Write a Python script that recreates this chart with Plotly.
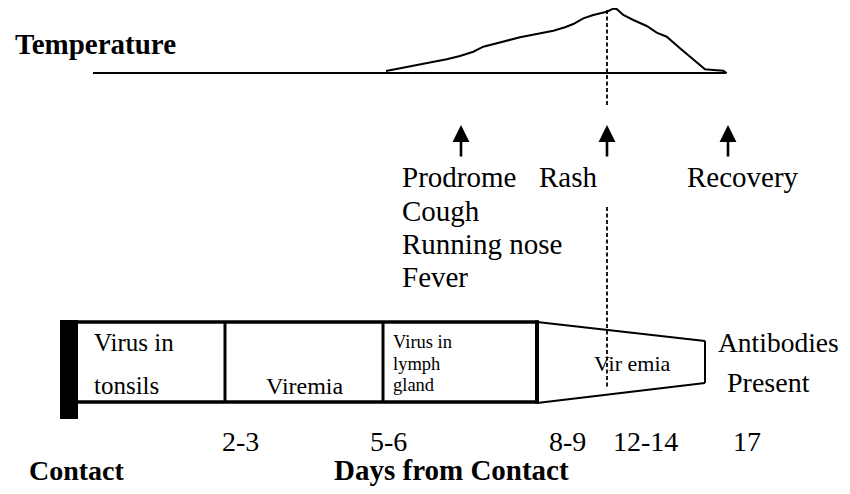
import plotly.graph_objects as go

# ---- data ----
curve_x = [386, 400, 423.3, 446.7, 460, 473.3, 483.3, 493.3, 506.7, 520, 536.7, 553.3, 565,
           573.3, 583.3, 593.3, 606.7, 613.3, 616.7, 623.3, 633.3, 646.7, 656.7, 666.7, 680,
           693.3, 700, 705, 713.3, 723.3, 726.7]
curve_y = [71, 68.3, 64, 59.3, 56, 51.7, 46.7, 44, 40.7, 37.3, 34, 30.7, 27.3,
           24, 18.3, 15, 11.7, 8.7, 9, 15, 20, 26, 32.7, 36.7, 48.3,
           59.3, 65, 69.3, 70, 70.7, 73.3]

event_labels = ["Prodrome", "Rash", "Recovery"]
symptom_labels = ["Cough", "Running nose", "Fever"]
day_labels = ["2-3", "5-6", "8-9", "12-14", "17"]
phase_labels = ["Virus in<br>tonsils", "Viremia", "Virus in<br>lymph<br>gland", "Vir emia"]

# ---- layout constants ----
FONT = "Liberation Serif, Times New Roman, serif"
VIEW_W, VIEW_H = 850, 494
OFF = 8  # page body margin compensation
W, H = VIEW_W - OFF, VIEW_H - 2 * OFF
base_y = 73
base_x0, base_x1 = 93, 726
rash_x = 607
arrow_x = [461, 607, 728]
arrow_tip, arrow_tail = 125, 158
event_left = [400, 537, 685]
event_y = 177
symptom_y = [211, 244, 277]
box_top, box_bot = 322, 402
box_left, box_right = 78, 537
dividers = [225, 383]
trap_right, trap_top, trap_bot = 705, 341, 383
day_x = [240, 388, 567, 645, 747]
day_y = 441

fig = go.Figure()

# temperature curve
fig.add_trace(go.Scatter(x=curve_x, y=curve_y, mode="lines",
                         line=dict(color="black", width=2), hoverinfo="skip"))
# baseline
fig.add_trace(go.Scatter(x=[base_x0, base_x1], y=[base_y, base_y], mode="lines",
                         line=dict(color="black", width=2), hoverinfo="skip"))

shapes = []
# dashed rash line (two segments)
for y0, y1 in [(10, 107), (207, 388)]:
    shapes.append(dict(type="line", x0=rash_x, x1=rash_x, y0=y0, y1=y1,
                       line=dict(color="black", width=1.8, dash="4px,2.5px")))
# black bar at contact
shapes.append(dict(type="rect", x0=60, x1=78, y0=320, y1=419,
                   fillcolor="black", line=dict(width=0)))
# box top and bottom
for yy in [box_top, box_bot]:
    shapes.append(dict(type="line", x0=box_left, x1=box_right + 2, y0=yy, y1=yy,
                       line=dict(color="black", width=3.5)))
# dividers
for dx in dividers:
    shapes.append(dict(type="line", x0=dx, x1=dx, y0=box_top, y1=box_bot,
                       line=dict(color="black", width=3)))
shapes.append(dict(type="line", x0=box_right, x1=box_right, y0=box_top - 1.5, y1=box_bot + 1.5,
                   line=dict(color="black", width=4)))
# trapezoid
for (xa, ya, xb, yb) in [(box_right, box_top, trap_right, trap_top),
                         (trap_right, trap_top, trap_right, trap_bot),
                         (trap_right, trap_bot, box_right, box_bot + 1)]:
    shapes.append(dict(type="line", x0=xa, x1=xb, y0=ya, y1=yb,
                       line=dict(color="black", width=2)))

ann = []
def txt(t, x, y, size, xanchor="left", bold=False):
    ann.append(dict(text=f"<b>{t}</b>" if bold else t, x=x, y=y, xref="x", yref="y",
                    showarrow=False, xanchor=xanchor, yanchor="middle",
                    font=dict(family=FONT, size=size, color="black")))

txt("Temperature", 13, 44, 29, bold=True)
for lab, lx in zip(event_labels, event_left):
    txt(lab, lx, event_y, 29)
for lab, sy in zip(symptom_labels, symptom_y):
    txt(lab, event_left[0], sy, 29)

# arrows
for ax_ in arrow_x:
    ann.append(dict(text="", x=ax_, y=arrow_tip, ax=ax_, ay=arrow_tail,
                    xref="x", yref="y", axref="x", ayref="y",
                    showarrow=True, arrowhead=2, arrowsize=1.3, arrowwidth=2.6,
                    arrowcolor="black", standoff=0))

# box texts
tonsil_lines = phase_labels[0].split("<br>")
txt(tonsil_lines[0], 92, 342, 25)
txt(tonsil_lines[1], 92, 385, 25)
txt(phase_labels[1], 305, 386, 24, xanchor="center")
for i, line in enumerate(phase_labels[2].split("<br>")):
    txt(line, 391, 342 + 21.5 * i, 18.5)
txt(phase_labels[3], 632, 363, 22, xanchor="center")
txt("Antibodies", 716, 342, 27.5)
txt("Present", 725, 382, 28)

for lab, dx in zip(day_labels, day_x):
    txt(lab, dx, day_y, 28, xanchor="center")
txt("Contact", 27, 470, 28, bold=True)
txt("Days from Contact", 332, 470, 29, bold=True)

fig.update_layout(
    width=W, height=H, autosize=False,
    margin=dict(l=0, r=0, t=0, b=0),
    paper_bgcolor="white", plot_bgcolor="white",
    showlegend=False,
    xaxis=dict(range=[OFF, W + OFF], visible=False, fixedrange=True),
    yaxis=dict(range=[H + OFF, OFF], visible=False, fixedrange=True),
    shapes=shapes, annotations=ann,
)

fig.write_html("out.html")
